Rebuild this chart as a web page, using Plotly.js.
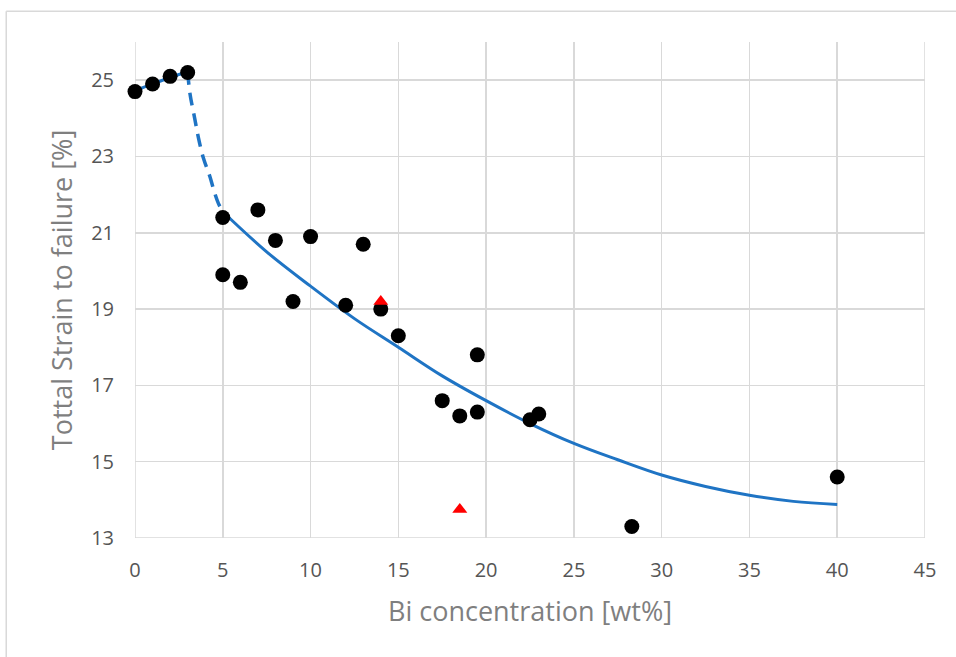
<!DOCTYPE html>
<html>
<head>
<meta charset="utf-8">
<script src="https://cdn.plot.ly/plotly-3.0.1.min.js"></script>
<style>
  html, body { margin: 0; padding: 0; background: #fff; }
  #chart { width: 956px; height: 657px; }
</style>
</head>
<body>
<div id="chart"></div>
<script>
// Measured data (black circles)
const biX = [0, 1, 2, 3, 5, 7, 5, 6, 8, 9, 10, 12, 13, 14, 15, 19.5, 17.5, 18.5, 19.5, 22.5, 23, 28.3, 40];
const strainY = [24.7, 24.9, 25.1, 25.2, 21.4, 21.6, 19.9, 19.7, 20.8, 19.2, 20.9, 19.1, 20.7, 19.0, 18.3, 17.8, 16.6, 16.2, 16.3, 16.1, 16.25, 13.3, 14.6];

// Red triangles
const triX = [14, 18.5];
const triY = [19.2, 13.75];

// Trend line segments
const lowX = [0, 1, 2, 3];
const lowY = [24.72, 24.9, 25.07, 25.22];

const dashX = [3, 3.13, 3.4, 3.6, 3.9, 4.27, 4.5, 4.75, 5];
const dashY = [25.22, 24.65, 24.0, 23.52, 22.95, 22.47, 22.1, 21.77, 21.55];

const fitX = [5, 7.5, 10, 12.5, 15, 17.5, 20, 22.5, 25, 27.5, 30, 32.5, 35, 37.5, 40];
const fitY = [21.55, 20.5, 19.6, 18.75, 18.0, 17.25, 16.6, 16.0, 15.48, 15.05, 14.65, 14.35, 14.12, 13.96, 13.88];

const xTicks = [0, 5, 10, 15, 20, 25, 30, 35, 40, 45];
const yTicks = [13, 15, 17, 19, 21, 23, 25];

const lineColor = '#1f74c4';
const gridColor = '#d9d9d9';

const traces = [
  { x: lowX, y: lowY, mode: 'lines', line: { color: lineColor, width: 3, shape: 'spline' }, hoverinfo: 'skip', cliponaxis: false },
  { x: dashX, y: dashY, mode: 'lines', line: { color: lineColor, width: 3.5, shape: 'spline', dash: '13px,8px' }, hoverinfo: 'skip', cliponaxis: false },
  { x: fitX, y: fitY, mode: 'lines', line: { color: lineColor, width: 3, shape: 'spline' }, hoverinfo: 'skip', cliponaxis: false },
  { x: biX, y: strainY, mode: 'markers', marker: { color: '#000', size: 15, symbol: 'circle' }, cliponaxis: false },
  { x: triX, y: triY, mode: 'markers', marker: { color: '#ff0000', size: 13, symbol: 'triangle-up' }, cliponaxis: false }
];

// edge grid lines that Plotly does not draw at the axis ends
const edgeGrid = [
  { type: 'line', xref: 'x', yref: 'paper', x0: xTicks[0], x1: xTicks[0], y0: 0, y1: 1, layer: 'below', line: { color: gridColor, width: 1.5 } },
  { type: 'line', xref: 'x', yref: 'paper', x0: xTicks[xTicks.length - 1], x1: xTicks[xTicks.length - 1], y0: 0, y1: 1, layer: 'below', line: { color: gridColor, width: 1.5 } },
  { type: 'line', xref: 'paper', yref: 'y', x0: 0, x1: 1, y0: yTicks[0], y1: yTicks[0], layer: 'below', line: { color: gridColor, width: 1.5 } }
];

const layout = {
  width: 956, height: 657,
  showlegend: false,
  paper_bgcolor: '#fff', plot_bgcolor: '#fff',
  margin: { l: 135, r: 31, t: 42, b: 119 },
  font: { family: 'Open Sans, sans-serif', color: '#595959' },
  xaxis: {
    range: [0, 45], tickvals: xTicks, ticktext: xTicks.map(String),
    showgrid: true, gridcolor: gridColor, gridwidth: 1.5,
    zeroline: false, showline: false, ticks: '',
    tickfont: { size: 20, color: '#555555' },
    ticklabelstandoff: 18,
    title: { text: 'Bi concentration [wt%]', font: { size: 27, color: '#7f7f7f' }, standoff: 20 }
  },
  yaxis: {
    range: [13, 26], tickvals: yTicks, ticktext: yTicks.map(String),
    showgrid: true, gridcolor: gridColor, gridwidth: 1.5,
    zeroline: false, showline: false, ticks: '',
    tickfont: { size: 20, color: '#555555' },
    ticklabelstandoff: 20,
    title: { text: 'Tottal Strain to failure [%]', font: { size: 27, color: '#7f7f7f' }, standoff: 10 }
  },
  shapes: edgeGrid.concat([
    { type: 'line', xref: 'paper', yref: 'paper', x0: -0.163, x1: 1.1, y0: 1.062, y1: 1.062, line: { color: gridColor, width: 1.5 } },
    { type: 'line', xref: 'paper', yref: 'paper', x0: -0.163, x1: -0.163, y0: 1.062, y1: -0.3, line: { color: gridColor, width: 1.5 } }
  ])
};

Plotly.newPlot('chart', traces, layout, { displayModeBar: false, staticPlot: true });
</script>
</body>
</html>
